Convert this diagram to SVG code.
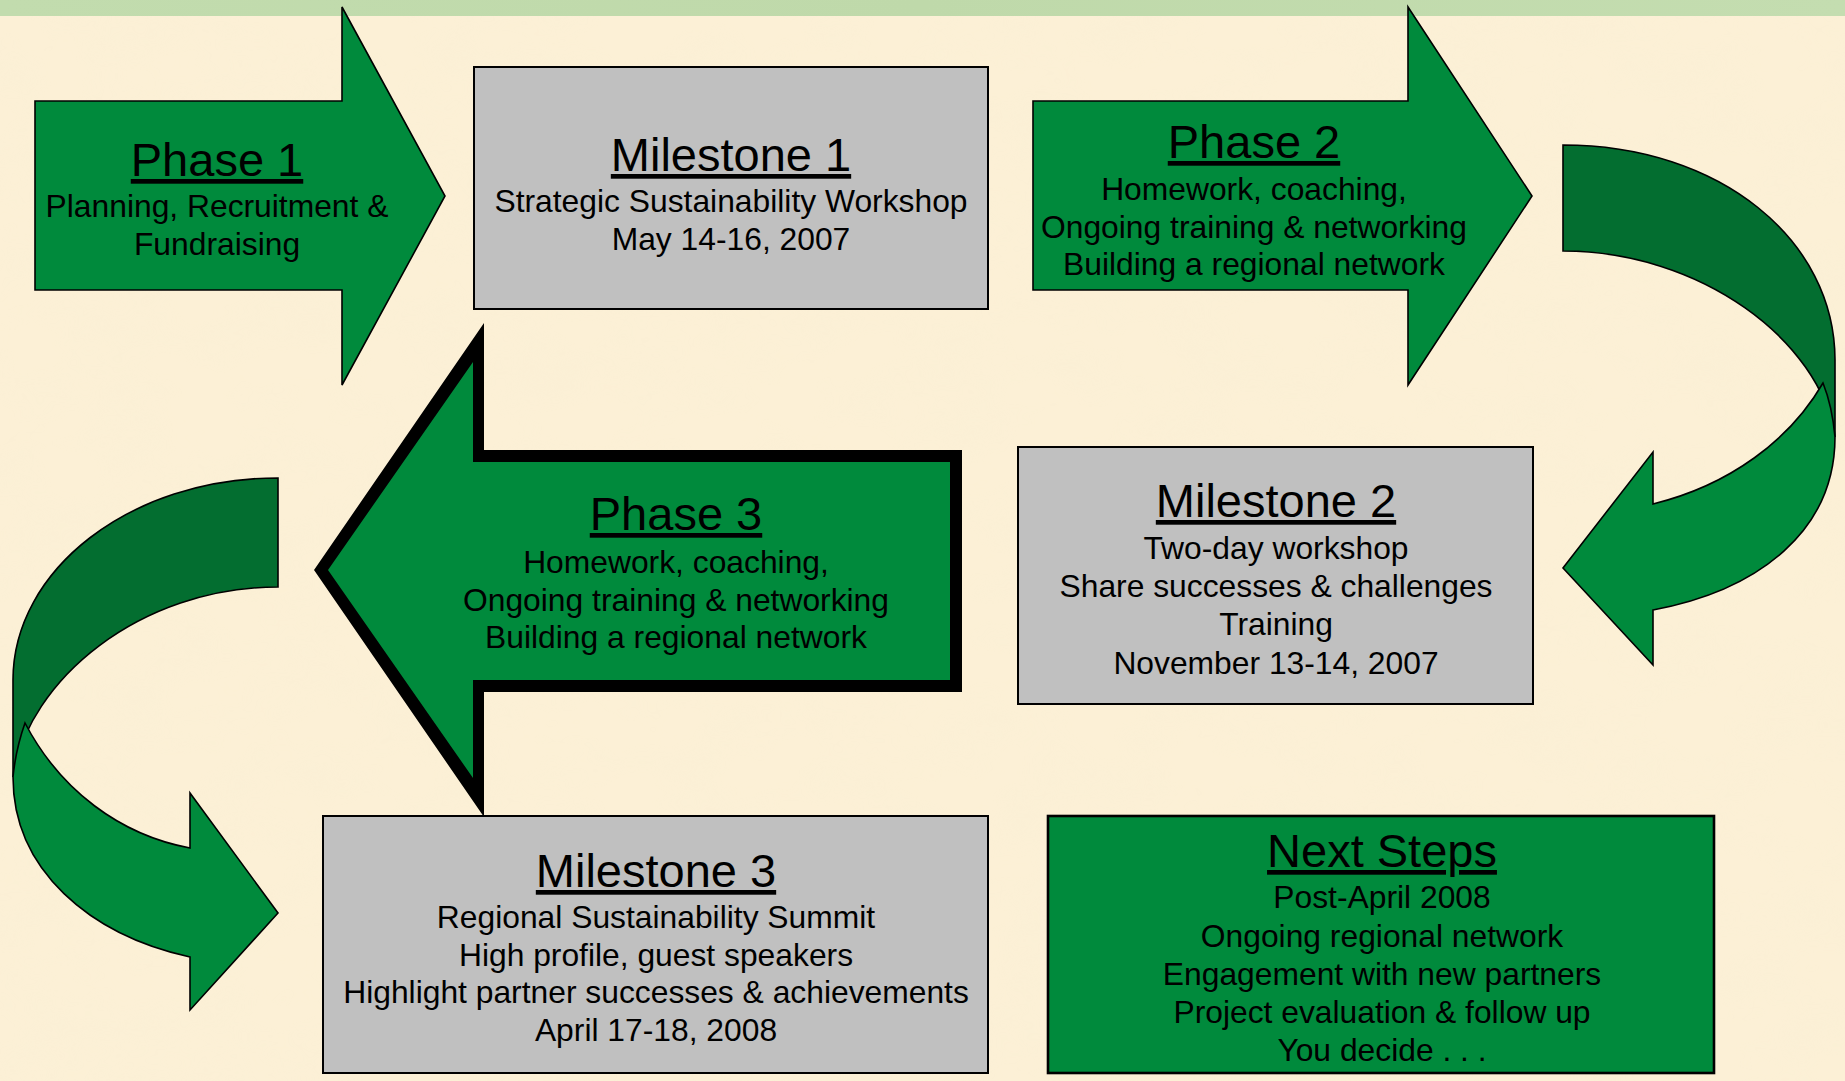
<svg xmlns="http://www.w3.org/2000/svg" width="1845" height="1081" viewBox="0 0 1845 1081">
  <defs>
    <filter id="parch" x="0" y="0" width="100%" height="100%">
      <feTurbulence type="fractalNoise" baseFrequency="0.012 0.02" numOctaves="3" seed="7"/>
      <feColorMatrix type="matrix" values="0 0 0 0 0.93  0 0 0 0 0.85  0 0 0 0 0.66  0 0 0 1.2 -0.45"/>
    </filter>
    <linearGradient id="strip" x1="0" y1="0" x2="1" y2="0">
      <stop offset="0" stop-color="#C2DCAE"/>
      <stop offset="0.5" stop-color="#BFD9AA"/>
      <stop offset="1" stop-color="#C4DDB0"/>
    </linearGradient>
  </defs>
  <style>
    .bg { fill: #FCF0D6; }
    .grn { fill: #008A3C; stroke: #000; stroke-width: 1.6; stroke-linejoin: miter; }
    .drk { fill: #036E30; stroke: #000; stroke-width: 1.6; stroke-linejoin: miter; }
    .gray { fill: #C0C0C0; stroke: #000; stroke-width: 2; }
    .nbox { fill: #008A3C; stroke: #000; stroke-width: 2.6; }
    text { font-family: "Liberation Sans", Arial, sans-serif; fill: #000; text-anchor: middle; }
    .t { font-size: 47px; text-decoration: underline; }
    .s { font-size: 31.8px; }
  </style>

  <rect class="bg" x="0" y="0" width="1845" height="1081"/>
  <rect x="0" y="0" width="1845" height="1081" filter="url(#parch)" opacity="0.35"/>
  <rect x="0" y="0" width="1845" height="16" fill="url(#strip)"/>

  <g id="connectors">
    <g id="curve-right">
      <path class="drk" d="M 1563,145 C 1720,145 1835,240 1835,360 L 1835,437 C 1820,340 1700,251 1563,251 Z"/>
      <path class="grn" d="M 1823,383 C 1790,440 1730,485 1653,504 L 1653,452 L 1563,568 L 1653,665 L 1653,610 C 1760,590 1835,530 1835,437 C 1833,415 1829,398 1823,383 Z"/>
    </g>
    <g id="curve-left">
      <path class="drk" d="M 278,478 C 130,478 13,570 13,680 L 13,777 C 28,680 140,587 278,587 Z"/>
      <path class="grn" d="M 25,723 C 60,790 120,835 190,848 L 190,793 L 278,913 L 190,1010 L 190,957 C 90,935 13,870 13,777 C 15,757 19,740 25,723 Z"/>
    </g>
  </g>

  <g id="phase1">
    <path class="grn" d="M 35,101 L 342,101 L 342,7 L 445,196 L 342,385 L 342,290 L 35,290 Z"/>
    <text class="t" x="217" y="176">Phase 1</text>
    <text class="s" x="217" y="217">Planning, Recruitment &amp;</text>
    <text class="s" x="217" y="255">Fundraising</text>
  </g>

  <g id="milestone1">
    <rect class="gray" x="474" y="67" width="514" height="242"/>
    <text class="t" x="731" y="171">Milestone 1</text>
    <text class="s" x="731" y="212">Strategic Sustainability Workshop</text>
    <text class="s" x="731" y="250">May 14-16, 2007</text>
  </g>

  <g id="phase2">
    <path class="grn" d="M 1033,101 L 1408,101 L 1408,7 L 1532,196 L 1408,385 L 1408,290 L 1033,290 Z"/>
    <text class="t" x="1254" y="158">Phase 2</text>
    <text class="s" x="1254" y="200">Homework, coaching,</text>
    <text class="s" x="1254" y="237.5">Ongoing training &amp; networking</text>
    <text class="s" x="1254" y="275">Building a regional network</text>
  </g>

  <g id="milestone2">
    <rect class="gray" x="1018" y="447" width="515" height="257"/>
    <text class="t" x="1276" y="517">Milestone 2</text>
    <text class="s" x="1276" y="559">Two-day workshop</text>
    <text class="s" x="1276" y="597">Share successes &amp; challenges</text>
    <text class="s" x="1276" y="635">Training</text>
    <text class="s" x="1276" y="674">November 13-14, 2007</text>
  </g>

  <g id="phase3">
    <path fill="#000" d="M 962,450 L 484,450 L 484,323 L 314,570 L 484,817 L 484,692 L 962,692 Z"/>
    <path fill="#008A3C" d="M 950,462 L 473,462 L 473,362 L 328,570 L 473,778 L 473,680 L 950,680 Z"/>
    <text class="t" x="676" y="530">Phase 3</text>
    <text class="s" x="676" y="573">Homework, coaching,</text>
    <text class="s" x="676" y="611">Ongoing training &amp; networking</text>
    <text class="s" x="676" y="648">Building a regional network</text>
  </g>

  <g id="milestone3">
    <rect class="gray" x="323" y="816" width="665" height="257"/>
    <text class="t" x="656" y="887">Milestone 3</text>
    <text class="s" x="656" y="928">Regional Sustainability Summit</text>
    <text class="s" x="656" y="966">High profile, guest speakers</text>
    <text class="s" x="656" y="1003">Highlight partner successes &amp; achievements</text>
    <text class="s" x="656" y="1041">April 17-18, 2008</text>
  </g>

  <g id="nextsteps">
    <rect class="nbox" x="1048" y="816" width="666" height="257"/>
    <text class="t" x="1382" y="867">Next Steps</text>
    <text class="s" x="1382" y="908">Post-April 2008</text>
    <text class="s" x="1382" y="947">Ongoing regional network</text>
    <text class="s" x="1382" y="985">Engagement with new partners</text>
    <text class="s" x="1382" y="1023">Project evaluation &amp; follow up</text>
    <text class="s" x="1382" y="1061">You decide . . .</text>
  </g>
</svg>
